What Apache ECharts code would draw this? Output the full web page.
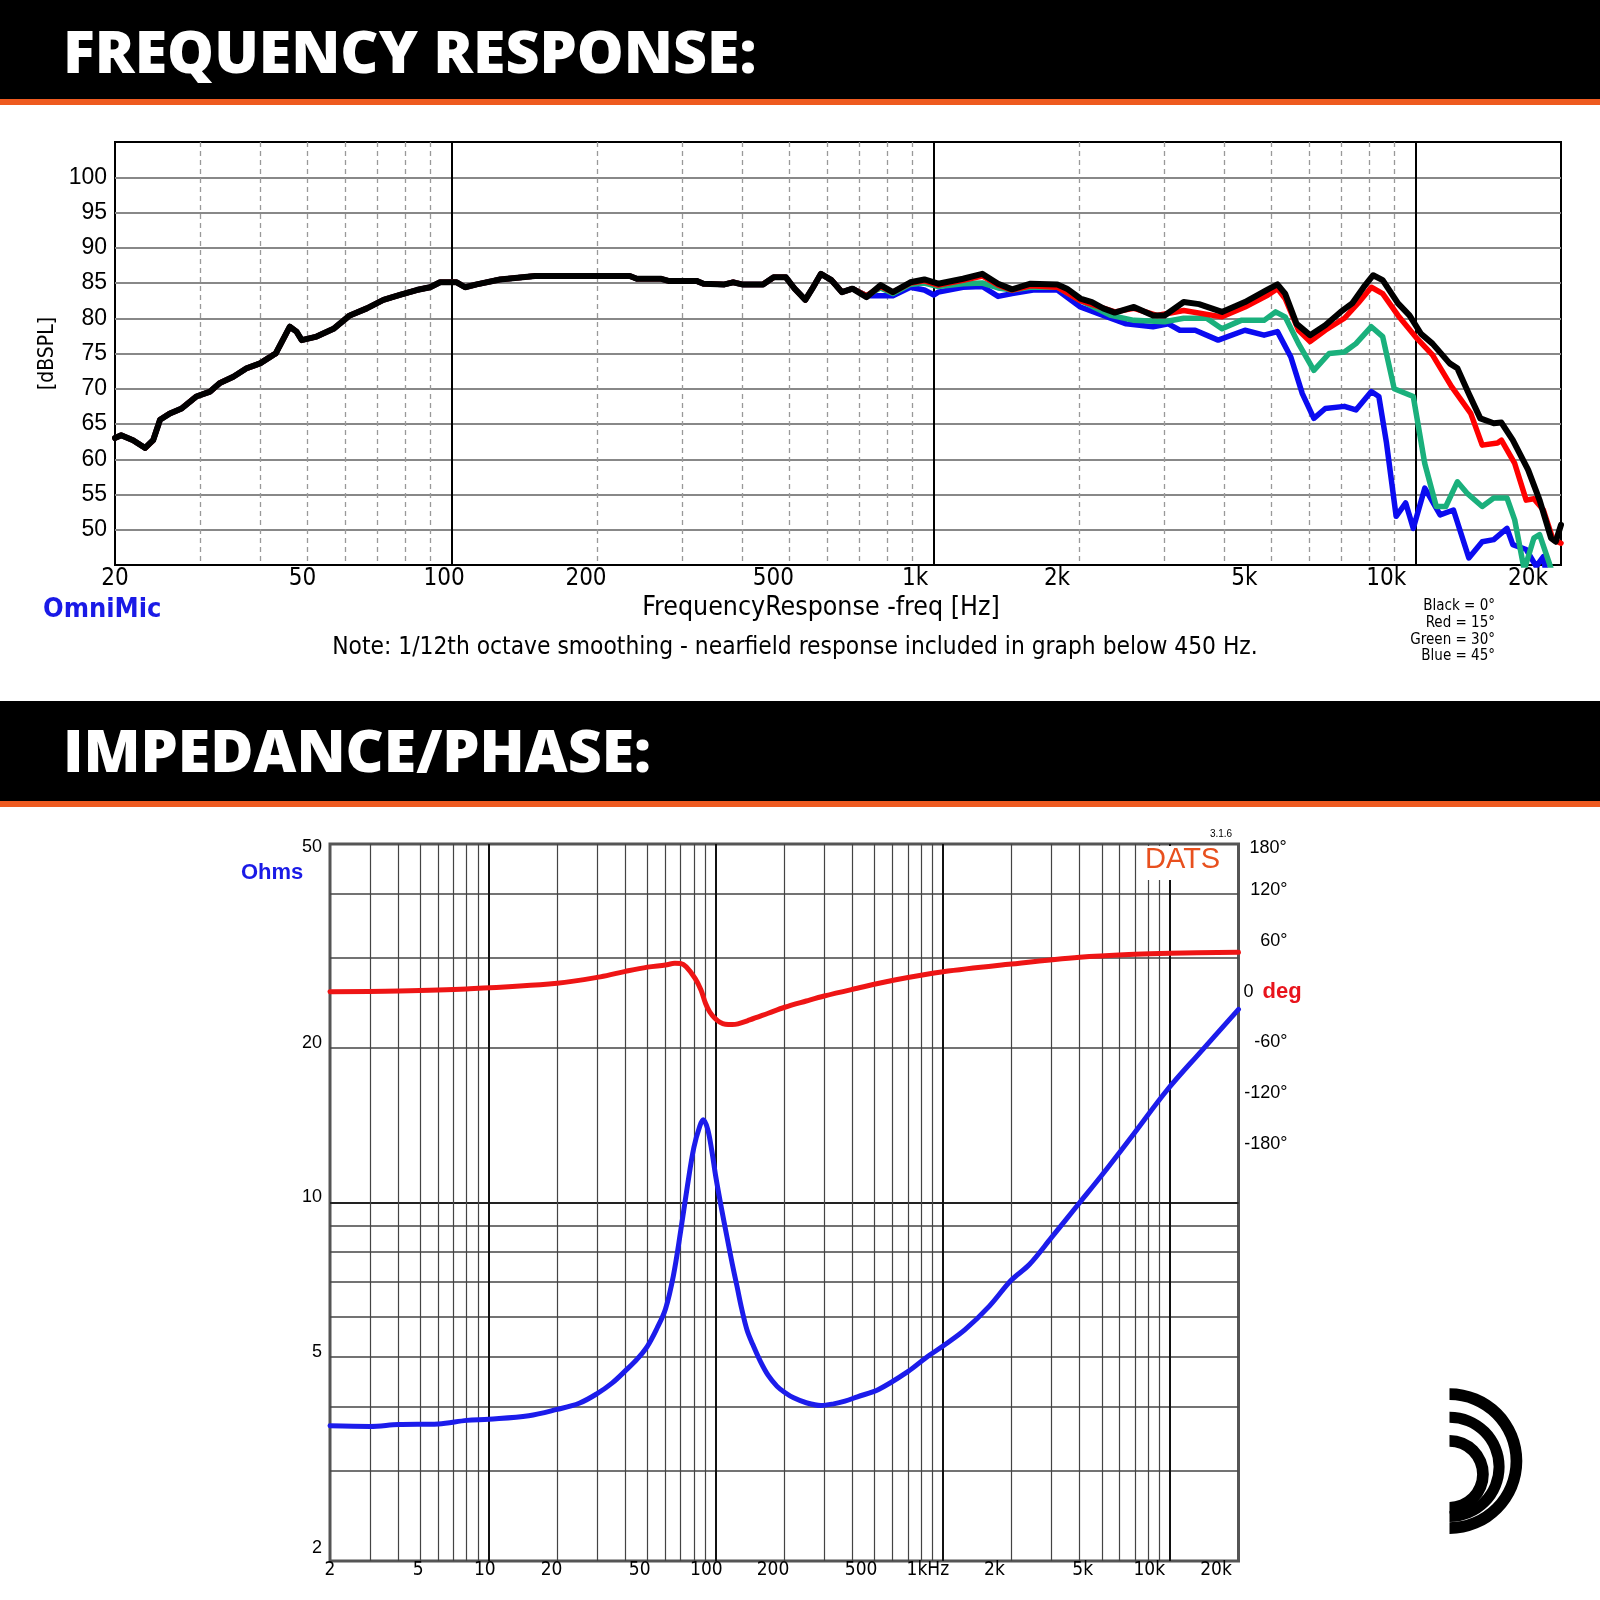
<!DOCTYPE html>
<html>
<head>
<meta charset="utf-8">
<title>Frequency response / impedance</title>
<script src="https://cdn.jsdelivr.net/npm/echarts@6/dist/echarts.min.js"></script>
<style>
  html, body { margin: 0; padding: 0; background: #fff; }
  #chart { width: 1600px; height: 1600px; }
</style>
</head>
<body>
<div id="chart"></div>
<script>
// ---------- frequency response (top plot) ----------
// below ~680 Hz all four angles are the same curve
const lowFreq = [20, 20.6, 21.8, 23.1, 24, 24.8, 26, 27.5, 29.5, 31.5, 33, 35.2, 37.5, 40, 42.6, 43.1, 46.1, 47.6,
  48.8, 52.4, 56.8, 61.4, 66.6, 72.1, 78, 84.5, 90.1, 94.5, 102.3, 106.5, 112.6, 125.8, 148.7, 233.9, 241.9, 271.9,
  281.3, 321.7, 332.6, 367.7, 383.3, 399.9, 442, 464.9, 493.1, 514, 541, 559.3, 582.9, 613.1, 644.6, 677.8];
const lowDb = [63.0, 63.4, 62.7, 61.6, 62.7, 65.6, 66.5, 67.2, 68.9, 69.6, 70.8, 71.7, 72.9, 73.6, 74.8, 75.0, 78.8, 78.1,
  76.9, 77.4, 78.5, 80.4, 81.4, 82.6, 83.3, 84.0, 84.4, 85.1, 85.1, 84.4, 84.8, 85.5, 86.0, 86.0, 85.6, 85.6,
  85.3, 85.3, 84.9, 84.8, 85.1, 84.8, 84.8, 85.8, 85.8, 84.2, 82.6, 84.2, 86.3, 85.4, 83.7, 84.2];

const blackFreq = [724.6, 775.4, 822, 893.8, 955.5, 1021, 1149, 1260, 1359, 1453, 1587, 1804, 1888, 2013, 2127, 2246,
  2373, 2600, 2849, 3010, 3298, 3548, 3960, 4419, 4932, 5161, 5354, 5655, 6030, 6486, 6980, 7374, 7790, 8154, 8532,
  9181, 9698, 10245, 10823, 11750, 12190, 12876, 13602, 14503, 15044, 15888, 17094, 18055, 19074, 19500, 20000];
const blackDb = [83.0, 84.7, 83.7, 85.1, 85.5, 84.9, 85.6, 86.3, 84.9, 84.1, 84.9, 84.8, 84.2, 82.8, 82.3, 81.4,
  80.8, 81.6, 80.4, 80.4, 82.3, 82.0, 80.9, 82.3, 84.1, 84.8, 83.5, 79.2, 77.6, 79.0, 80.9, 82.1, 84.4, 86.1, 85.4,
  82.1, 80.4, 77.8, 76.4, 73.6, 72.9, 69.3, 65.8, 65.1, 65.2, 62.7, 58.5, 54.2, 48.8, 48.3, 50.7];

const redFreq = [724.6, 775.4, 822, 893.8, 955.5, 1021, 1149, 1260, 1359, 1453, 1587, 1804, 2013, 2373, 2600, 2901,
  3298, 3960, 4419, 4932, 5161, 5354, 5708, 6030, 6486, 7107, 7578, 8081, 8532, 9181, 10060, 10823, 11858, 12994,
  13727, 14767, 15044, 16032, 16935, 17565, 18388, 19251, 20000];
const redDb = [83.2, 84.5, 83.7, 85.0, 85.3, 84.7, 85.4, 86.0, 84.7, 84.0, 84.6, 84.4, 82.5, 80.9, 81.4, 80.4,
  81.1, 80.2, 81.6, 83.3, 84.2, 82.8, 78.3, 76.7, 78.3, 80.0, 82.1, 84.4, 83.5, 80.4, 77.1, 74.8, 70.3, 66.5,
  62.0, 62.3, 62.7, 59.4, 54.2, 54.4, 52.8, 48.6, 48.1];

const greenFreq = [724.6, 775.4, 822, 893.8, 955.5, 1021, 1149, 1260, 1359, 1453, 1587, 1804, 2013, 2330, 2600, 3010,
  3298, 3680, 3960, 4339, 4842, 5115, 5354, 5708, 6142, 6607, 7107, 7509, 8081, 8532, 9016, 9876, 10432, 11023,
  11535, 12190, 12760, 13727, 14503, 15452, 16032, 16780, 17565, 18055, 18903, 20000];
const greenDb = [83.2, 84.3, 83.5, 84.8, 85.0, 84.5, 84.9, 85.0, 84.3, 84.0, 84.4, 84.4, 82.5, 80.4, 79.7, 79.5,
  80.0, 80.0, 78.5, 79.7, 79.7, 80.9, 80.2, 76.4, 72.6, 75.0, 75.2, 76.4, 78.8, 77.4, 70.0, 68.9, 59.4, 53.3,
  53.3, 56.8, 55.2, 53.3, 54.5, 54.5, 51.4, 44.3, 48.8, 49.3, 45.3, 40.0];

const blueFreq = [724.6, 775.4, 822, 893.8, 955.5, 1000, 1021, 1149, 1260, 1359, 1453, 1606, 1804, 2013, 2288, 2506,
  2849, 3065, 3238, 3484, 3888, 4419, 4842, 5161, 5502, 5812, 6142, 6486, 7107, 7509, 8081, 8378, 8690, 9100, 9524,
  9876, 10432, 11227, 11965, 12876, 13727, 14503, 15452, 15888, 16935, 17767, 18388, 19000, 20000];
const blueDb = [83.2, 83.2, 83.2, 84.4, 84.0, 83.3, 83.7, 84.4, 84.5, 83.1, 83.5, 84.0, 84.0, 81.6, 80.2, 79.2,
  78.8, 79.2, 78.3, 78.3, 76.9, 78.3, 77.6, 78.1, 74.5, 69.3, 65.8, 67.2, 67.5, 67.0, 69.6, 68.9, 62.3, 51.9, 53.8,
  50.2, 55.9, 52.1, 52.8, 46.0, 48.3, 48.6, 50.2, 47.9, 47.2, 44.8, 46.2, 40.0, 38.0];

const frDbTicks = [50, 55, 60, 65, 70, 75, 80, 85, 90, 95, 100];
const frMinorFreq = [30, 40, 50, 60, 70, 80, 90, 200, 300, 400, 500, 600, 700, 800, 900,
  2000, 3000, 4000, 5000, 6000, 7000, 8000, 9000];
const frMajorFreq = [100, 1000, 10000];
const frLabelFreq = [20, 50, 100, 200, 500, 1000, 2000, 5000, 10000, 20000];
const frLabelText = ['20', '50', '100', '200', '500', '1k', '2k', '5k', '10k', '20k'];
const frLegend = ['Black = 0°', 'Red = 15°', 'Green = 30°', 'Blue = 45°'];

// ---------- impedance / phase (bottom plot) ----------
const impFreq = [2, 3, 4, 6, 8, 10, 15, 20, 25, 30, 35, 40, 45, 50, 55, 60, 65, 70, 75, 80, 85, 88, 92, 96, 100,
  106, 112, 118, 124, 130, 137, 145, 157, 170, 186, 200, 220, 250, 290, 330, 370, 420, 520, 700, 850, 1000, 1250,
  1600, 2000, 2400, 3000, 4000, 5000, 6700, 9700, 13600, 20000];
const impOhm = [3.67, 3.66, 3.69, 3.70, 3.76, 3.78, 3.84, 3.95, 4.06, 4.24, 4.45, 4.70, 4.95, 5.25, 5.68, 6.2, 7.2,
  8.8, 10.8, 12.8, 14.1, 14.5, 13.9, 12.6, 11.2, 9.7, 8.55, 7.6, 6.85, 6.2, 5.65, 5.3, 4.9, 4.6, 4.38, 4.27, 4.16,
  4.07, 4.02, 4.05, 4.10, 4.18, 4.32, 4.68, 5.0, 5.25, 5.65, 6.28, 7.06, 7.57, 8.54, 10.0, 11.3, 13.36, 16.57,
  19.65, 23.8];
const phaseFreq = [2, 4, 8, 20, 31, 40, 50, 60, 66, 70, 74, 81, 86, 90, 94, 99, 104, 110, 118, 125, 141, 170, 201,
  250, 300, 400, 612, 1000, 2000, 4000, 7000, 10000, 20000];
const phaseDeg = [0, 0.8, 3.2, 9.9, 17.5, 24, 29, 31.5, 33.5, 33.3, 29.5, 15.8, 2, -13.7, -24, -31.4, -36, -38.5,
  -38.8, -38.0, -33.4, -25.5, -18.4, -11, -5.1, 2.8, 13.8, 23.6, 32.7, 40.6, 44.2, 45.4, 46.6];

const zMinorFreq = [3, 4, 5, 6, 7, 8, 9, 20, 30, 40, 50, 60, 70, 80, 90, 200, 300, 400, 500, 600, 700, 800, 900,
  2000, 3000, 4000, 5000, 6000, 7000, 8000, 9000];
const zMajorFreq = [10, 100, 1000, 10000];
const zLabelFreq = [2, 5, 10, 20, 50, 100, 200, 500, 1000, 2000, 5000, 10000, 20000];
const zLabelText = ['2', '5', '10', '20', '50', '100', '200', '500', '1kHz', '2k', '5k', '10k', '20k'];
const ohmMinor = [3, 4, 5, 6, 7, 8, 9, 20, 30, 40];
const ohmMajor = [10];
const ohmLabels = [2, 5, 10, 20, 50];
const phaseLabels = [-180, -120, -60, 0, 60, 120];

// ---------- helpers ----------
const L = Math.log10;
const NARROW = '"Liberation Sans Narrow", "Arial Narrow", "DejaVu Sans Condensed", sans-serif';
const SANS = '"Liberation Sans", Arial, sans-serif';
// the printed frequency labels sit on a slightly compressed scale in the original
const FR_LABEL_END = 23500;
const Z_LABEL_END = 25270;

const pairs = (xs, ys) => xs.map((x, i) => [x, ys[i]]);

function labelFor(freqs, texts) {
  return function (v) {
    for (let i = 0; i < freqs.length; i++) {
      if (Math.abs(L(freqs[i]) - v) < 1e-6) return texts[i];
    }
    return '';
  };
}

function deco(gridIndex, pos, min, max, extra) {
  return Object.assign({
    gridIndex: gridIndex, type: 'value', position: pos, min: min, max: max,
    axisLine: { show: false, onZero: false }, axisTick: { show: false },
    axisLabel: { show: false }, splitLine: { show: false }
  }, extra);
}

function line(name, xi, yi, data, color, width, smooth) {
  return {
    name: name, type: 'line', xAxisIndex: xi, yAxisIndex: yi, data: data, symbol: 'none',
    smooth: smooth, animation: false, z: 3,
    lineStyle: { color: color, width: width, cap: 'round', join: 'round' }, itemStyle: { color: color }
  };
}

function text(str, x, y, font, fill, align, extra) {
  return Object.assign({
    type: 'text', z: 20,
    style: { text: str, x: x, y: y, font: font, fill: fill,
      textAlign: align, align: align, textVerticalAlign: 'middle', verticalAlign: 'middle' }
  }, extra || {});
}

function ring(cy, r, r0) {
  return { type: 'sector', z: 20, shape: { cx: 1449.5, cy: cy, r: r, r0: r0,
    startAngle: -Math.PI / 2, endAngle: Math.PI / 2, clockwise: true }, style: { fill: '#000' } };
}

// ---------- chart ----------
const chart = echarts.init(document.getElementById('chart'));

const option = {
  animation: false,
  backgroundColor: '#fff',
  grid: [
    { left: 115, top: 142, width: 1446, height: 423, show: true, borderColor: '#000', borderWidth: 2, backgroundColor: '#fff' },
    { left: 330, top: 844, width: 908.5, height: 717, show: true, borderColor: '#555', borderWidth: 3, backgroundColor: '#fff' }
  ],
  xAxis: [
    // top plot
    { gridIndex: 0, type: 'log', logBase: 10, min: 20, max: 20000, position: 'bottom',
      axisLine: { show: false, onZero: false }, axisTick: { show: false }, axisLabel: { show: false }, splitLine: { show: false } },
    deco(0, 'bottom', L(20), L(20000), {
      axisTick: { show: false, customValues: frMinorFreq.map(L) },
      splitLine: { show: true, lineStyle: { color: '#999', width: 1.3, type: [5, 4] } }
    }),
    deco(0, 'bottom', L(20), L(20000), {
      axisTick: { show: false, customValues: frMajorFreq.map(L) },
      splitLine: { show: true, lineStyle: { color: '#000', width: 2 } }
    }),
    deco(0, 'bottom', L(20), L(FR_LABEL_END), {
      axisLabel: { show: true, customValues: frLabelFreq.map(L), formatter: labelFor(frLabelFreq, frLabelText),
        fontFamily: NARROW, fontSize: 24, color: '#000', margin: 2 }
    }),
    // bottom plot
    { gridIndex: 1, type: 'log', logBase: 10, min: 2, max: 20000, position: 'bottom',
      axisLine: { show: false, onZero: false }, axisTick: { show: false }, axisLabel: { show: false }, splitLine: { show: false } },
    deco(1, 'bottom', L(2), L(20000), {
      axisTick: { show: false, customValues: zMinorFreq.map(L) },
      splitLine: { show: true, lineStyle: { color: '#444', width: 1.2 } }
    }),
    deco(1, 'bottom', L(2), L(20000), {
      axisTick: { show: false, customValues: zMajorFreq.map(L) },
      splitLine: { show: true, lineStyle: { color: '#111', width: 2 } }
    }),
    deco(1, 'bottom', L(2), L(Z_LABEL_END), {
      axisLabel: { show: true, customValues: zLabelFreq.map(L), formatter: labelFor(zLabelFreq, zLabelText),
        fontFamily: NARROW, fontSize: 19, color: '#000', margin: 0 }
    })
  ],
  yAxis: [
    // top plot, dB SPL
    { gridIndex: 0, type: 'value', position: 'left', min: 45, max: 105,
      axisLine: { show: false, onZero: false },
      axisTick: { show: false, customValues: frDbTicks },
      axisLabel: { customValues: frDbTicks, fontFamily: SANS, fontSize: 23, color: '#000', margin: 8 },
      splitLine: { show: true, lineStyle: { color: '#888', width: 2 } },
      name: '[dBSPL]', nameLocation: 'middle', nameGap: 56, nameRotate: 90,
      nameTextStyle: { fontFamily: NARROW, fontSize: 21, color: '#000' } },
    // bottom plot, impedance (data)
    { gridIndex: 1, type: 'log', logBase: 10, min: 2, max: 50, position: 'left',
      axisLine: { show: false, onZero: false }, axisTick: { show: false }, axisLabel: { show: false }, splitLine: { show: false } },
    deco(1, 'left', L(2), L(50), {
      axisTick: { show: false, customValues: ohmMinor.map(L) },
      splitLine: { show: true, lineStyle: { color: '#444', width: 1.6 } },
      axisLabel: { show: true, customValues: ohmLabels.map(L), margin: 8, fontFamily: SANS, fontSize: 18, color: '#000',
        formatter: function (v) {
          const o = Math.round(Math.pow(10, v));
          if (o === 50) return '{dn|50}';
          if (o === 2) return '{lo|2}';
          return '{up|' + o + '}';
        },
        rich: {
          up: { fontFamily: SANS, fontSize: 18, color: '#000', padding: [0, 0, 10, 0] },
          dn: { fontFamily: SANS, fontSize: 18, color: '#000', padding: [6, 0, 0, 0] },
          lo: { fontFamily: SANS, fontSize: 18, color: '#000', padding: [0, 0, 26, 0] }
        } }
    }),
    deco(1, 'left', L(2), L(50), {
      axisTick: { show: false, customValues: ohmMajor.map(L) },
      splitLine: { show: true, lineStyle: { color: '#222', width: 1.8 } }
    }),
    // bottom plot, phase (right)
    { gridIndex: 1, type: 'value', position: 'right', min: -672.4, max: 174.4,
      axisLine: { show: false, onZero: false }, axisTick: { show: false }, splitLine: { show: false },
      axisLabel: { customValues: phaseLabels, margin: 5, align: 'left',
        formatter: function (v) {
          return v === 0 ? '{z|0}{d|deg}' : '{n|' + v + '°}';
        },
        rich: {
          n: { width: 44, align: 'right', fontFamily: SANS, fontSize: 18, color: '#000' },
          z: { fontFamily: SANS, fontSize: 18, color: '#000' },
          d: { fontFamily: SANS, fontSize: 22, fontWeight: 'bold', color: '#e8141c', padding: [0, 0, 0, 9] }
        } },
      name: '180°', nameLocation: 'end', nameGap: -4,
      nameTextStyle: { fontFamily: SANS, fontSize: 18, color: '#000', align: 'left', verticalAlign: 'middle', padding: [0, 0, 0, 11] } }
  ],
  series: [
    line('Blue = 45°', 0, 0, pairs(lowFreq.concat(blueFreq), lowDb.concat(blueDb)), '#0b0bf0', 5.5, false),
    line('Green = 30°', 0, 0, pairs(lowFreq.concat(greenFreq), lowDb.concat(greenDb)), '#1ab07c', 5.5, false),
    line('Red = 15°', 0, 0, pairs(lowFreq.concat(redFreq), lowDb.concat(redDb)), '#ff0000', 5.5, false),
    line('Black = 0°', 0, 0, pairs(lowFreq.concat(blackFreq), lowDb.concat(blackDb)), '#000000', 6, false),
    line('Phase', 4, 4, pairs(phaseFreq, phaseDeg), '#ee1515', 5, 0.35),
    line('Impedance', 4, 1, pairs(impFreq, impOhm), '#1c1ceb', 5, 0.35)
  ],
  graphic: [
    { type: 'rect', z: 20, shape: { x: 0, y: 0, width: 1600, height: 99 }, style: { fill: '#000' } },
    { type: 'rect', z: 20, shape: { x: 0, y: 99, width: 1600, height: 6 }, style: { fill: '#ee5a1f' } },
    text('FREQUENCY RESPONSE:', 63, 56, '800 59px "Open Sans", sans-serif', '#fff', 'left'),
    { type: 'rect', z: 20, shape: { x: 0, y: 701, width: 1600, height: 100 }, style: { fill: '#000' } },
    { type: 'rect', z: 20, shape: { x: 0, y: 801, width: 1600, height: 6 }, style: { fill: '#ee5a1f' } },
    text('IMPEDANCE/PHASE:', 63, 755, '800 59px "Open Sans", sans-serif', '#fff', 'left'),

    text('OmniMic', 43, 610, 'bold 27px ' + NARROW, '#1a1ae6', 'left'),
    text('FrequencyResponse -freq [Hz]', 821, 608, '26.5px ' + NARROW, '#000', 'center'),
    text('Note: 1/12th octave smoothing - nearfield response included in graph below 450 Hz.', 795, 648,
      '24.3px ' + NARROW, '#000', 'center'),
    text(frLegend[0], 1495, 606, '15px ' + NARROW, '#000', 'right'),
    text(frLegend[1], 1495, 623, '15px ' + NARROW, '#000', 'right'),
    text(frLegend[2], 1495, 640, '15px ' + NARROW, '#000', 'right'),
    text(frLegend[3], 1495, 656, '15px ' + NARROW, '#000', 'right'),

    text('Ohms', 241, 873, 'bold 22px ' + SANS, '#1a1ae6', 'left'),
    { type: 'rect', z: 20, shape: { x: 1141, y: 846, width: 96, height: 34 }, style: { fill: '#fff' } },
    text('DATS', 1145, 860, '29px ' + SANS, '#e8501e', 'left'),
    text('3.1.6', 1221, 834, '10px ' + SANS, '#000', 'center'),

    ring(1461.1, 72.8, 61.1),
    ring(1466.8, 55.1, 44.1),
    ring(1474.3, 39.3, 27.6)
  ]
};

chart.setOption(option);
</script>
</body>
</html>
